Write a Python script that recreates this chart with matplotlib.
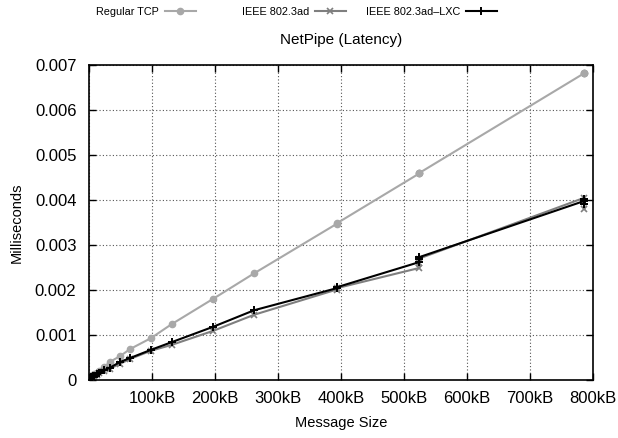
"""NetPipe latency vs message size for three link configurations."""

import matplotlib

matplotlib.use("Agg")
import matplotlib.pyplot as plt
from matplotlib.ticker import FuncFormatter, MultipleLocator


# message sizes in kB (NetPIPE steps, repeated sizes are the -3/0/+3 byte probes)
SIZES_KB = [
    0.003, 0.1, 0.5, 1.0, 1.5, 2.0, 3.1, 4.1, 6.1, 8.2, 12.3, 16.4, 24.6,
    32.8, 49.2, 65.5, 98.3, 131.1, 196.6, 262.1, 393.2, 393.2, 524.3,
    524.3, 524.3, 786.4, 786.4, 786.4,
]
REGULAR_TCP = [
    0.00004, 0.00004, 0.00005, 0.00006, 0.00006, 0.00007, 0.00008, 0.00009,
    0.00011, 0.00013, 0.00016, 0.00020, 0.00029, 0.00040, 0.00053, 0.00069,
    0.00093, 0.00124, 0.00180, 0.00237, 0.00347, 0.00348, 0.00459, 0.00460,
    0.00460, 0.00682, 0.00683, 0.00683,
]
IEEE_8023AD = [
    0.00003, 0.00003, 0.00004, 0.00004, 0.00005, 0.00005, 0.00006, 0.00006,
    0.00008, 0.00009, 0.00012, 0.00015, 0.00020, 0.00025, 0.00036, 0.00047,
    0.00065, 0.00078, 0.00109, 0.00145, 0.00201, 0.00204, 0.00249, 0.00260,
    0.00270, 0.00405, 0.00395, 0.00380,
]
IEEE_8023AD_LXC = [
    0.00003, 0.00003, 0.00004, 0.00004, 0.00005, 0.00005, 0.00006, 0.00007,
    0.00008, 0.00010, 0.00013, 0.00016, 0.00022, 0.00027, 0.00040, 0.00049,
    0.00067, 0.00084, 0.00118, 0.00155, 0.00204, 0.00206, 0.00262, 0.00268,
    0.00273, 0.00398, 0.00392, 0.00402,
]
SERIES_LABELS = ["Regular TCP", "IEEE 802.3ad", "IEEE 802.3ad\u2013LXC"]

plt.rcParams["font.family"] = ["Liberation Sans", "DejaVu Sans"]

fig = plt.figure(figsize=(6.18, 4.38), dpi=100)
ax = fig.add_axes([0.144, 0.1324, 0.8155, 0.7192])

lines = []
lines += ax.plot(SIZES_KB, REGULAR_TCP, color="#a8a8a8", lw=1.5, marker="o",
                 ms=4.5, label=SERIES_LABELS[0])
lines += ax.plot(SIZES_KB, IEEE_8023AD, color="#7f7f7f", lw=1.5, marker="x",
                 ms=4.5, mew=1.2, label=SERIES_LABELS[1])
lines += ax.plot(SIZES_KB, IEEE_8023AD_LXC, color="black", lw=1.5, marker="+",
                 ms=5.5, mew=1.4, label=SERIES_LABELS[2])

ax.set_xlim(0, 800)
ax.set_ylim(0, 0.007)
ax.xaxis.set_major_locator(MultipleLocator(100))
ax.yaxis.set_major_locator(MultipleLocator(0.001))
ax.xaxis.set_major_formatter(
    FuncFormatter(lambda v, _: "" if v == 0 else f"{v:.0f}kB"))
ax.yaxis.set_major_formatter(
    FuncFormatter(lambda v, _: "0" if abs(v) < 1e-12 else f"{v:.3f}"))

ax.grid(True, color="#555555", linestyle=(0, (1, 2)), linewidth=0.8)
ax.tick_params(direction="in", length=5, width=1, labelsize=12,
               top=True, right=True)
ax.tick_params(axis="x", pad=8)
ax.tick_params(axis="y", pad=9)
for spine in ax.spines.values():
    spine.set_linewidth(1.2)

ax.set_xlabel("Message Size", fontsize=10.5, labelpad=7)
ax.set_ylabel("Milliseconds", fontsize=10.5, labelpad=8)
ax.set_title("NetPipe (Latency)", fontsize=11, pad=15)

# gnuplot-style key: label on the left, sample on the right, one per series
key_right_px = [196, 346, 497]
for line, right in zip(lines, key_right_px):
    leg = fig.legend(handles=[line], loc="center right",
                     bbox_to_anchor=(right / 618, 1 - 12 / 438),
                     frameon=False, markerfirst=False, fontsize=7.8,
                     handlelength=2.9, handletextpad=0.5,
                     borderpad=0, borderaxespad=0)

fig.savefig("out.png", dpi=100, facecolor="white")
